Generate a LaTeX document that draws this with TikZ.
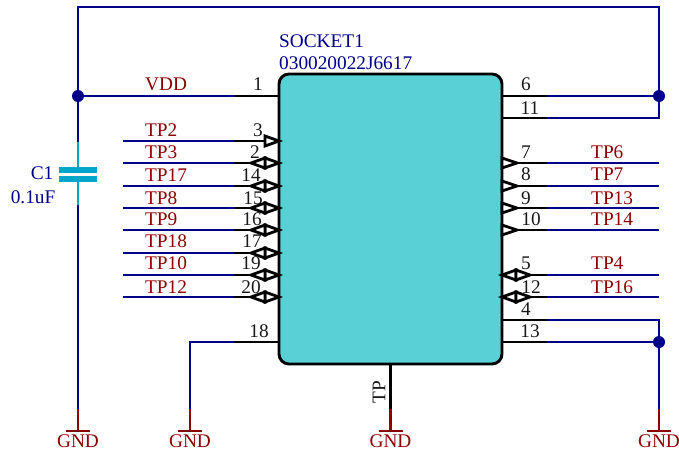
\documentclass[tikz,border=0pt]{standalone}
\usepackage{fontspec}
\setmainfont{Liberation Serif}
\usepackage{tikz}
\usetikzlibrary{
	positioning,
	arrows.meta
}
\definecolor{wireblue}{HTML}{00008B}
\definecolor{netred}{HTML}{8B0000}
\definecolor{capcyan}{HTML}{00A5CC}
\definecolor{bodycyan}{HTML}{59CFD6}
\tikzset{
	wire/.style={draw=wireblue,line width=2.9pt},
	pinline/.style={draw=black,line width=2.9pt},
	gndline/.style={draw=netred,line width=2.9pt},
	capline/.style={draw=capcyan,line width=2.9pt},
	pinmark/.style={draw=black,fill=white,line width=2.8pt,line join=miter},
	txt/.style={inner sep=0pt,font=\fontsize{19.3}{19.3}\selectfont},
	pinnum/.style={txt,text=black!90},
	netname/.style={txt,text=netred,anchor=west},
	partname/.style={txt,text=wireblue},
	junction/.style={circle,fill=wireblue,inner sep=0pt,minimum size=12pt},
	plate/.style={rectangle,fill=capcyan,inner sep=0pt,minimum width=38pt,minimum height=6pt}
}
\begin{document}
\begin{tikzpicture}[x=1pt,y=-1pt]
	\useasboundingbox (0,0) rectangle (679,453);
	% net wires and pins, left side
	\foreach \y/\num/\nx/\net/\ny in {
			141/3/258/TP2/130,163/2/255/TP3/152,186/14/251/TP17/175,208/15/253/TP8/198,
			230/16/252/TP9/219,253/17/252/TP18/241,275/19/251/TP10/263,297/20/251/TP12/287}{
		\coordinate (body\num) at (279,\y);
		\coordinate (stub\num) at (234,\y);
		\coordinate (end\num) at (123,\y);
		\draw[wire] (end\num) -- (stub\num);
		\draw[pinline] (stub\num) -- (body\num);
		\node[pinnum] (num\num) at (\nx,\ny) {\num};
		\node[netname] (net\num) at (145,\ny) {\net};
	}
	% net wires and pins, right side
	\foreach \y/\num/\nx/\net/\ny in {
			163/7/526/TP6/152,186/8/526/TP7/174,208/9/526/TP13/198,230/10/531/TP14/219,
			275/5/526/TP4/263,297/12/531/TP16/287}{
		\coordinate (body\num) at (502,\y);
		\coordinate (stub\num) at (547,\y);
		\coordinate (end\num) at (659,\y);
		\draw[wire] (stub\num) -- (end\num);
		\draw[pinline] (body\num) -- (stub\num);
		\node[pinnum] (num\num) at (\nx,\ny) {\num};
		\node[netname] (net\num) at (591,\ny) {\net};
	}
	% pins that go to the supply or to ground
	\foreach \x/\sx/\y/\num/\nx/\ny in {
			279/234/96/1/258/84,279/234/342/18/259/331,
			502/547/96/6/526/84,502/547/118/11/530/108,
			502/547/320/4/526/309,502/547/342/13/530/331}{
		\coordinate (body\num) at (\x,\y);
		\coordinate (stub\num) at (\sx,\y);
		\draw[pinline] (stub\num) -- (body\num);
		\node[pinnum] (num\num) at (\nx,\ny) {\num};
	}
	\node[netname] (netvdd) at (145,84) {VDD};

	% ground symbols
	\foreach \x/\name in {78/gndc,190/gndl,390.5/gndm,659/gndr}{
		\coordinate (\name top) at (\x,409);
		\coordinate (\name bar) at (\x,431);
		\draw[gndline] (\name top) -- (\name bar);
		\draw[gndline] ([xshift=-12pt]\name bar) -- ([xshift=12pt]\name bar);
		\node[txt,text=netred] (\name) at (\x,441) {GND};
	}

	% supply loop
	\node[junction] (jvddl) at (78,96) {};
	\node[junction] (jvddr) at (659,96) {};
	\coordinate (topl) at (78,7);
	\coordinate (topr) at (659,7);
	\coordinate (corner11) at (659,118);
	\draw[wire,line join=miter] (jvddl) -- (topl) -- (topr) -- (jvddr) -- (corner11) -- (stub11);
	\draw[wire] (jvddl) -- (stub1);
	\draw[wire] (jvddr) -- (stub6);

	% capacitor
	\node[plate] (capa) at (78,170) {};
	\node[plate] (capb) at (78,179) {};
	\coordinate (capin) at (78,142);
	\coordinate (capout) at (78,205);
	\draw[wire] (jvddl) -- (capin);
	\draw[capline] (capin) -- (capa);
	\draw[capline] (capb) -- (capout);
	\draw[wire] (capout) -- (gndctop);
	\node[partname,anchor=east] (capref) at (53.5,173) {C1};
	\node[partname,anchor=east] (capval) at (55.5,197) {0.1uF};

	% ground wires
	\node[junction] (jgnd) at (659,342) {};
	\coordinate (corner4) at (659,320);
	\coordinate (corner18) at (190,342);
	\draw[wire,line join=miter] (stub4) -- (corner4) -- (jgnd) -- (gndrtop);
	\draw[wire] (stub13) -- (jgnd);
	\draw[wire,line join=miter] (stub18) -- (corner18) -- (gndltop);

	% the part itself
	\node[draw=black,fill=bodycyan,line width=2.9pt,rounded corners=10pt,inner sep=0pt,
		minimum width=223pt,minimum height=290pt] (socket) at (390.5,219) {};
	\node[partname,anchor=west] (socketref) at (279,41) {SOCKET1};
	\node[partname,anchor=west] (socketval) at (279,63) {030020022J6617};
	\coordinate (tpend) at (390.5,409);
	\draw[pinline] (socket.south) -- (tpend);
	\node[txt,text=black!90,rotate=90] (tplabel) at (379,392) {TP};

	% pin direction marks
	\foreach \num in {3,2,14,15,16,17,19,20}
		\draw[pinmark] (body\num) -- ++(-14,-5) -- ++(0,10) -- cycle;
	\foreach \num in {2,14,15,16,17,19,20}
		\draw[pinmark] ([xshift=-28pt]body\num) -- ++(14,-5) -- ++(0,10) -- cycle;
	\foreach \num in {7,8,9,10}
		\draw[pinmark] ([yshift=5pt]body\num) -- ++(15,5) -- ++(-15,5) -- cycle;
	\foreach \num in {5,12} {
		\draw[pinmark] (body\num) -- ++(14,-5) -- ++(0,10) -- cycle;
		\draw[pinmark] ([xshift=28pt]body\num) -- ++(-14,-5) -- ++(0,10) -- cycle;
	}
\end{tikzpicture}
\end{document}
